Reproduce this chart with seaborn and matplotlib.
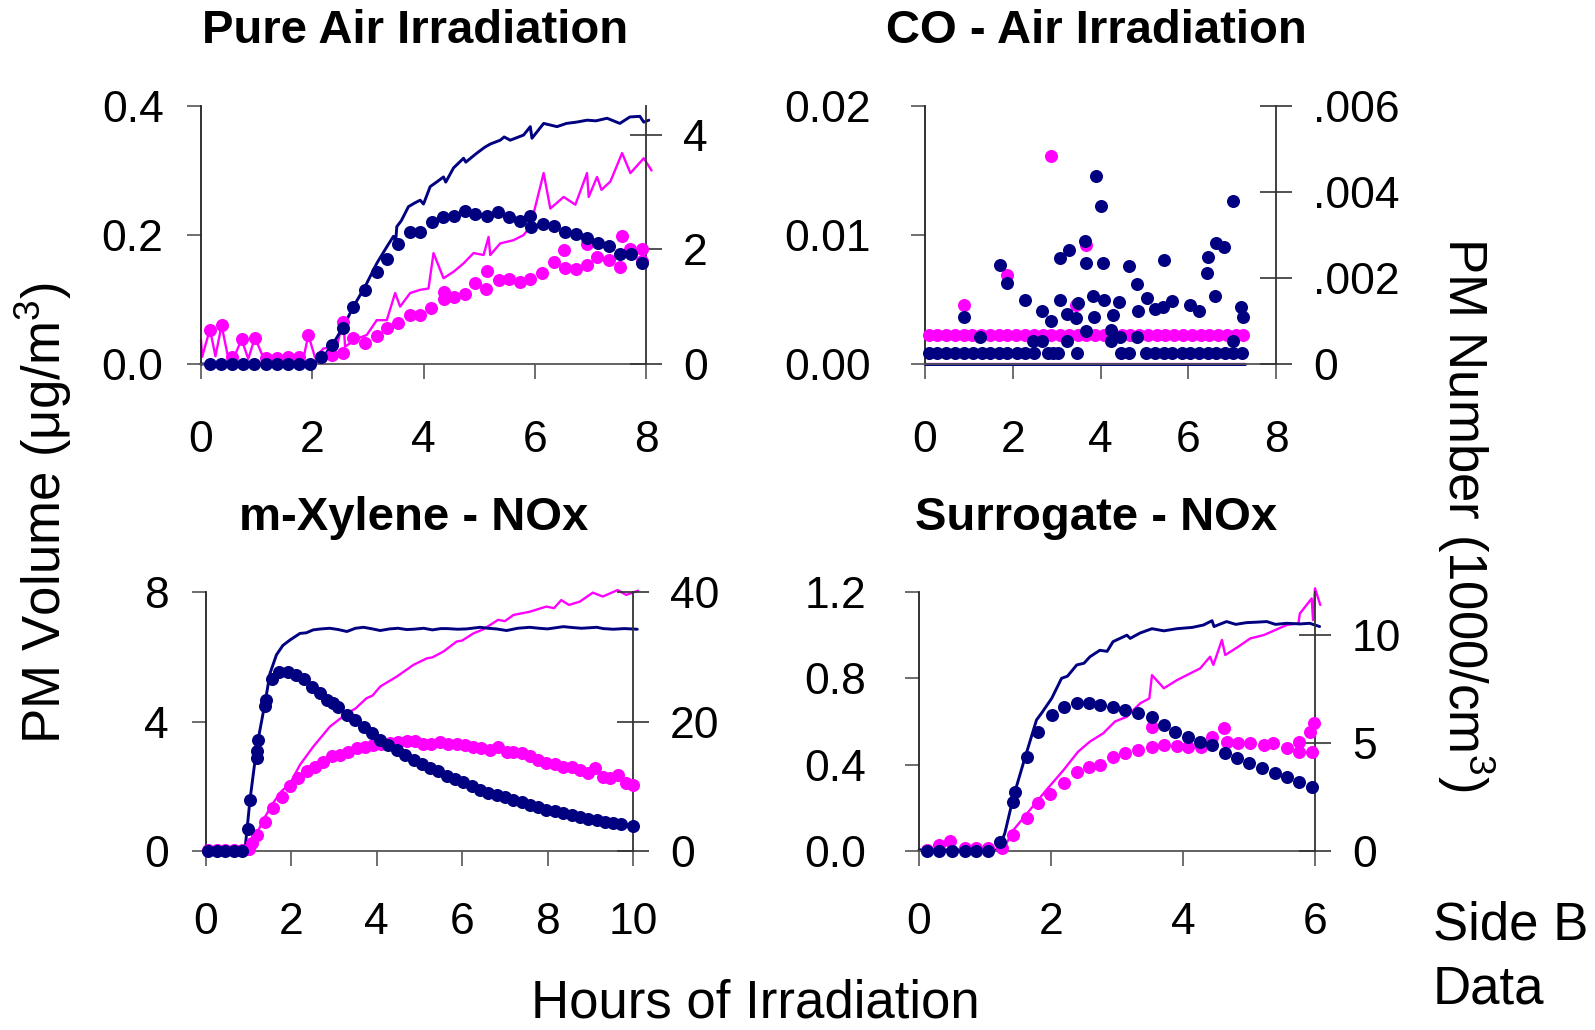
import matplotlib
matplotlib.use("Agg")
import matplotlib.pyplot as plt
import seaborn as sns

sns.set_theme(style="white")
plt.rcParams["font.family"] = ["Liberation Sans", "DejaVu Sans"]
plt.rcParams["mathtext.default"] = "regular"
plt.rcParams["text.color"] = "black"
plt.rcParams["axes.labelcolor"] = "black"
plt.rcParams["xtick.color"] = "black"
plt.rcParams["ytick.color"] = "black"

NAVY = "#000080"
MAGENTA = "#FF00FF"

# ---------------- Pure Air Irradiation ----------------
pa_vol_navy_x = [0.0, 0.5, 1.0, 1.5, 2.0, 2.2, 2.4, 2.56, 2.74, 2.95,
                 3.16, 3.23, 3.35, 3.46, 3.5, 3.52, 3.6, 3.73, 3.85, 3.94,
                 4.0, 4.12, 4.25, 4.36, 4.4, 4.54, 4.72, 4.76, 4.96, 5.1,
                 5.2, 5.38, 5.45, 5.56, 5.8, 5.92, 5.95, 6.16, 6.4, 6.57,
                 6.75, 6.94, 7.1, 7.3, 7.53, 7.71, 7.89, 7.96, 8.05]
pa_vol_navy_y = [0.0, 0.0, 0.0, 0.0, 0.0, 0.011, 0.035, 0.058, 0.089, 0.12,
                 0.156, 0.166, 0.183, 0.198, 0.19, 0.213, 0.222, 0.244, 0.25, 0.254,
                 0.248, 0.275, 0.283, 0.29, 0.282, 0.304, 0.319, 0.313, 0.327, 0.336,
                 0.341, 0.347, 0.352, 0.347, 0.355, 0.368, 0.35, 0.373, 0.368, 0.373,
                 0.375, 0.378, 0.377, 0.381, 0.373, 0.383, 0.384, 0.375, 0.378]
pa_vol_mag_x = [0.0, 0.02, 0.16, 0.26, 0.37, 0.49, 0.6, 0.73, 0.85, 0.97,
                1.12, 1.3, 1.5, 1.7, 1.85, 1.93, 2.05, 2.2, 2.44, 2.56,
                2.59, 2.8, 2.98, 3.16, 3.34, 3.49, 3.58, 3.76, 3.94, 4.09,
                4.18, 4.36, 4.54, 4.72, 4.9, 5.08, 5.17, 5.2, 5.38, 5.62,
                5.8, 5.92, 6.16, 6.28, 6.52, 6.73, 6.94, 6.97, 7.12, 7.2,
                7.36, 7.57, 7.72, 7.96, 8.1]
pa_vol_mag_y = [0.037, 0.011, 0.054, 0.012, 0.06, 0.009, 0.012, 0.038, 0.008, 0.041,
                0.01, 0.008, 0.01, 0.012, 0.012, 0.045, 0.01, 0.024, 0.027, 0.068,
                0.027, 0.039, 0.045, 0.068, 0.068, 0.11, 0.089, 0.11, 0.115, 0.117,
                0.172, 0.133, 0.143, 0.156, 0.172, 0.169, 0.197, 0.169, 0.187, 0.192,
                0.2, 0.213, 0.296, 0.241, 0.259, 0.247, 0.296, 0.259, 0.29, 0.27,
                0.283, 0.327, 0.296, 0.319, 0.3]
pa_num_navy_x = [0.16, 0.36, 0.56, 0.76, 0.96, 1.16, 1.36, 1.56, 1.76, 1.96,
                 2.16, 2.35, 2.55, 2.74, 2.94, 3.16, 3.35, 3.55, 3.75, 3.94,
                 4.15, 4.35, 4.54, 4.74, 4.93, 5.14, 5.34, 5.53, 5.74, 5.92,
                 5.94, 6.14, 6.34, 6.55, 6.75, 6.94, 7.13, 7.33, 7.54, 7.73,
                 7.93]
pa_num_navy_y = [0, 0, 0, 0, 0, 0, 0, 0, 0, 0,
                 0.13, 0.33, 0.62, 1.0, 1.29, 1.61, 1.84, 2.1, 2.3, 2.3,
                 2.47, 2.56, 2.59, 2.67, 2.62, 2.59, 2.65, 2.57, 2.5, 2.59,
                 2.39, 2.45, 2.4, 2.3, 2.26, 2.19, 2.11, 2.05, 1.92, 1.91,
                 1.76]
pa_num_mag_x = [0.16, 0.37, 0.56, 0.73, 0.97, 1.16, 1.36, 1.56, 1.76, 1.93,
                2.16, 2.35, 2.56, 2.56, 2.74, 2.94, 3.16, 3.35, 3.55, 3.76,
                3.94, 4.14, 4.36, 4.36, 4.54, 4.74, 4.93, 5.13, 5.14, 5.35,
                5.53, 5.74, 5.92, 6.13, 6.34, 6.52, 6.55, 6.75, 6.94, 6.94,
                7.12, 7.33, 7.54, 7.57, 7.72, 7.93, 7.93]
pa_num_mag_y = [0.6, 0.68, 0.12, 0.43, 0.46, 0.1, 0.1, 0.12, 0.12, 0.5,
                0.12, 0.15, 0.19, 0.74, 0.45, 0.37, 0.48, 0.62, 0.71, 0.85,
                0.85, 0.97, 1.14, 1.25, 1.17, 1.22, 1.41, 1.3, 1.63, 1.46,
                1.49, 1.43, 1.49, 1.58, 1.78, 1.98, 1.67, 1.65, 1.72, 2.1,
                1.87, 1.81, 1.69, 2.24, 2.01, 2.0, 1.8]

# ---------------- CO - Air Irradiation ----------------
co_vol_x = [0.0, 2.0, 4.0, 6.0, 7.3]
co_vol_mag_y = [0.0, 0.0, 0.0, 0.0, 0.0]
co_vol_navy_y = [0.0, 0.0, 0.0, 0.0, 0.0]
co_num_mag_x = [0.08, 0.28, 0.48, 0.68, 0.88, 0.9, 1.08, 1.28, 1.48, 1.68,
                1.88, 1.88, 2.08, 2.28, 2.48, 2.68, 2.87, 2.88, 3.08, 3.28,
                3.44, 3.48, 3.67, 3.68, 3.88, 4.08, 4.28, 4.48, 4.68, 4.88,
                5.08, 5.28, 5.48, 5.68, 5.88, 6.08, 6.28, 6.48, 6.68, 6.88,
                7.08, 7.25]
co_num_mag_y = [0.00067, 0.00067, 0.00067, 0.00067, 0.00067, 0.00137, 0.00067, 0.00067, 0.00067, 0.00067,
                0.00067, 0.00206, 0.00067, 0.00067, 0.00067, 0.00067, 0.00484, 0.00067, 0.00067, 0.00067,
                0.00137, 0.00067, 0.00276, 0.00067, 0.00067, 0.00067, 0.00067, 0.00067, 0.00067, 0.00067,
                0.00067, 0.00067, 0.00067, 0.00067, 0.00067, 0.00067, 0.00067, 0.00067, 0.00067, 0.00067,
                0.00067, 0.00067]
co_num_navy_x = [0.08, 0.28, 0.48, 0.68, 0.89, 1.09, 1.29, 1.49, 1.69, 1.88,
                 2.09, 2.28, 2.48, 2.81, 2.92, 3.04, 3.47, 4.46, 4.65, 5.03,
                 5.25, 5.44, 5.64, 5.85, 6.04, 6.25, 6.45, 6.63, 6.83, 7.02,
                 7.23,
                 0.9, 1.25, 1.71, 1.88, 2.28, 2.47, 2.67, 2.67, 2.87, 3.08,
                 3.08, 3.24, 3.24, 3.29, 3.44, 3.49, 3.64, 3.67, 3.68, 3.83,
                 3.85, 3.89, 4.02, 4.05, 4.08, 4.23, 4.24, 4.29, 4.43, 4.44,
                 4.65, 4.84, 4.84, 4.86, 5.05, 5.25, 5.43, 5.44, 5.64, 6.04,
                 6.25, 6.42, 6.45, 6.61, 6.64, 6.81, 7.01, 7.02, 7.2, 7.25]
co_num_navy_y = [0.00025, 0.00025, 0.00025, 0.00025, 0.00025, 0.00025, 0.00025, 0.00025, 0.00025, 0.00025,
                 0.00025, 0.00025, 0.00025, 0.00025, 0.00025, 0.00025, 0.00025, 0.00025, 0.00025, 0.00025,
                 0.00025, 0.00025, 0.00025, 0.00025, 0.00025, 0.00025, 0.00025, 0.00025, 0.00025, 0.00025,
                 0.00025,
                 0.00109, 0.00062, 0.0023, 0.00189, 0.0015, 0.00054, 0.00124, 0.00054, 0.00101, 0.00247,
                 0.0015, 0.00116, 0.00054, 0.00264, 0.00106, 0.00143, 0.00287, 0.00234, 0.00077, 0.00158,
                 0.0011, 0.00438, 0.00367, 0.00234, 0.00149, 0.00079, 0.00054, 0.00114, 0.00145, 0.00062,
                 0.00228, 0.00186, 0.00062, 0.00124, 0.00153, 0.00127, 0.00133, 0.00243, 0.00147, 0.00137,
                 0.00124, 0.00211, 0.00248, 0.00158, 0.00282, 0.00271, 0.00054, 0.00379, 0.00133, 0.00109]

# ---------------- m-Xylene - NOx ----------------
mx_vol_navy_x = [0.0, 0.5, 0.91, 1.03, 1.19, 1.38, 1.5, 1.65, 1.8, 1.97,
                 2.2, 2.35, 2.51, 2.7, 2.9, 3.1, 3.3, 3.5, 3.69, 3.9,
                 4.08, 4.3, 4.5, 4.7, 4.86, 5.1, 5.3, 5.5, 5.64, 5.9,
                 6.1, 6.42, 6.6, 6.8, 7.04, 7.3, 7.58, 7.8, 8.0, 8.37,
                 8.6, 8.8, 9.15, 9.3, 9.54, 9.8, 10.1]
mx_vol_navy_y = [0, 0, 0, 1.58, 3.22, 4.56, 5.49, 6.06, 6.35, 6.52,
                 6.72, 6.74, 6.83, 6.86, 6.88, 6.84, 6.78, 6.88, 6.91, 6.86,
                 6.81, 6.86, 6.88, 6.84, 6.85, 6.88, 6.83, 6.87, 6.87, 6.85,
                 6.86, 6.91, 6.88, 6.86, 6.81, 6.88, 6.91, 6.88, 6.86, 6.93,
                 6.9, 6.88, 6.91, 6.87, 6.85, 6.87, 6.85]
mx_vol_mag_x = [0.0, 0.5, 0.95, 1.07, 1.19, 1.38, 1.58, 1.77, 1.97, 2.2,
                2.51, 2.9, 3.3, 3.5, 3.76, 3.9, 4.08, 4.47, 4.86, 5.17,
                5.3, 5.56, 5.87, 6.0, 6.26, 6.5, 6.84, 7.0, 7.2, 7.58,
                7.97, 8.15, 8.32, 8.5, 8.75, 9.06, 9.29, 9.45, 9.64, 9.84,
                10.12]
mx_vol_mag_y = [0, 0, 0, 0.25, 0.55, 1.05, 1.5, 1.85, 2.09, 2.66,
                3.22, 3.84, 4.25, 4.4, 4.72, 4.8, 5.08, 5.39, 5.75, 5.95,
                5.98, 6.16, 6.47, 6.5, 6.72, 6.85, 7.14, 7.1, 7.29, 7.39,
                7.55, 7.5, 7.75, 7.6, 7.7, 7.98, 7.86, 7.95, 8.06, 7.91,
                8.04]
mx_num_navy_x = [0.05, 0.25, 0.45, 0.65, 0.85, 0.99, 1.03, 1.19, 1.2, 1.22,
                 1.38, 1.4, 1.55, 1.72, 1.91, 2.1, 2.3, 2.48, 2.67, 2.83,
                 2.97, 3.1, 3.3, 3.49, 3.69, 3.88, 4.08, 4.27, 4.47, 4.66,
                 4.86, 5.05, 5.25, 5.44, 5.64, 5.83, 6.03, 6.22, 6.42, 6.61,
                 6.81, 7.0, 7.2, 7.39, 7.58, 7.78, 7.97, 8.17, 8.36, 8.56,
                 8.75, 8.95, 9.15, 9.34, 9.54, 9.73, 10.0]
mx_num_navy_y = [0, 0, 0, 0, 0, 3.35, 7.8, 14.3, 15.5, 17.1,
                 22.4, 23.3, 26.5, 27.7, 27.7, 27.2, 26.5, 25.4, 24.4, 23.3,
                 22.9, 22.3, 21.0, 20.2, 19.2, 18.2, 17.1, 16.4, 15.6, 14.8,
                 14.1, 13.4, 12.8, 12.3, 11.6, 11.1, 10.6, 10.0, 9.4, 9.0,
                 8.65, 8.3, 7.9, 7.6, 7.1, 6.75, 6.4, 6.2, 5.9, 5.6,
                 5.3, 5.0, 4.8, 4.5, 4.4, 4.2, 3.9]
mx_num_mag_x = [0.05, 0.25, 0.45, 0.65, 0.85, 1.0, 1.07, 1.19, 1.38, 1.58,
                1.77, 1.97, 2.16, 2.36, 2.55, 2.75, 2.94, 3.14, 3.33, 3.53,
                3.72, 3.92, 4.11, 4.31, 4.5, 4.7, 4.89, 5.09, 5.28, 5.48,
                5.67, 5.87, 6.06, 6.26, 6.45, 6.65, 6.84, 7.04, 7.2, 7.39,
                7.58, 7.78, 7.97, 8.17, 8.36, 8.56, 8.75, 8.95, 9.1, 9.29,
                9.45, 9.64, 9.84, 10.0]
mx_num_mag_y = [0.1, 0.1, 0.1, 0.1, 0.1, 0.3, 1.2, 2.5, 4.5, 6.6,
                8.4, 10.0, 11.2, 12.3, 13.0, 13.8, 14.6, 14.8, 15.3, 15.9,
                16.1, 16.4, 16.5, 16.7, 16.9, 17.0, 17.0, 16.6, 16.5, 16.9,
                16.6, 16.5, 16.4, 16.1, 15.9, 15.6, 16.1, 15.3, 15.3, 15.1,
                14.6, 14.1, 13.6, 13.4, 13.0, 13.0, 12.5, 12.1, 12.8, 11.5,
                11.2, 11.7, 10.5, 10.2]

# ---------------- Surrogate - NOx ----------------
su_vol_navy_x = [0.0, 0.3, 0.6, 0.9, 1.2, 1.3, 1.43, 1.58, 1.78, 1.86,
                 2.01, 2.16, 2.25, 2.39, 2.5, 2.59, 2.74, 2.85, 2.94, 3.15,
                 3.2, 3.35, 3.53, 3.71, 3.91, 4.14, 4.31, 4.44, 4.47, 4.66,
                 4.8, 4.96, 5.1, 5.27, 5.4, 5.57, 5.77, 5.92, 6.07]
su_vol_navy_y = [0.005, 0.005, 0.005, 0.005, 0.005, 0.082, 0.25, 0.406, 0.607, 0.64,
                 0.707, 0.8, 0.81, 0.862, 0.87, 0.9, 0.93, 0.925, 0.97, 1.0,
                 0.985, 1.01, 1.03, 1.02, 1.03, 1.036, 1.047, 1.067, 1.04, 1.063,
                 1.05, 1.058, 1.06, 1.063, 1.05, 1.055, 1.052, 1.055, 1.04]
su_vol_mag_x = [0.0, 0.3, 0.6, 0.9, 1.2, 1.3, 1.43, 1.68, 1.93, 2.19,
                2.41, 2.59, 2.79, 2.97, 3.15, 3.35, 3.49, 3.53, 3.71, 3.91,
                4.11, 4.26, 4.41, 4.46, 4.59, 4.64, 4.84, 5.02, 5.22, 5.4,
                5.57, 5.75, 5.77, 5.95, 5.97, 6.0, 6.08]
su_vol_mag_y = [0.005, 0.005, 0.005, 0.005, 0.005, 0.02, 0.097, 0.19, 0.283, 0.375,
                0.46, 0.507, 0.545, 0.6, 0.622, 0.684, 0.707, 0.815, 0.754, 0.792,
                0.823, 0.846, 0.9, 0.862, 0.978, 0.908, 0.947, 0.985, 1.0, 1.024,
                1.047, 1.055, 1.1, 1.17, 1.07, 1.217, 1.14]
su_num_navy_x = [0.12, 0.31, 0.5, 0.7, 0.87, 1.05, 1.23, 1.43, 1.46, 1.63,
                 1.81, 2.01, 2.19, 2.39, 2.57, 2.74, 2.94, 3.12, 3.32, 3.53,
                 3.71, 3.88, 4.08, 4.26, 4.44, 4.64, 4.82, 5.0, 5.2, 5.4,
                 5.57, 5.75, 5.95]
su_num_navy_y = [0, 0, 0, 0, 0, 0, 0.43, 2.29, 2.75, 4.37,
                 5.53, 6.31, 6.69, 6.85, 6.85, 6.77, 6.69, 6.54, 6.38, 6.23,
                 5.84, 5.53, 5.3, 5.07, 4.91, 4.53, 4.3, 4.06, 3.83, 3.6,
                 3.45, 3.21, 2.98]
su_num_mag_x = [0.12, 0.3, 0.47, 0.7, 0.87, 1.05, 1.25, 1.43, 1.63, 1.81,
                1.98, 2.19, 2.39, 2.57, 2.74, 2.94, 3.12, 3.32, 3.53, 3.53,
                3.71, 3.91, 4.08, 4.28, 4.44, 4.62, 4.67, 4.84, 5.02, 5.22,
                5.37, 5.57, 5.75, 5.75, 5.93, 5.95, 5.98]
su_num_mag_y = [0.05, 0.28, 0.48, 0.15, 0.15, 0.12, 0.12, 0.74, 1.51, 2.21,
                2.64, 3.14, 3.68, 3.91, 3.99, 4.37, 4.53, 4.68, 4.84, 5.76,
                4.91, 4.87, 4.84, 4.81, 5.3, 5.69, 5.07, 4.99, 5.02, 4.91,
                4.99, 4.76, 5.07, 4.6, 5.53, 4.6, 5.95]

# ---------------- titles / ticks ----------------
titles = ["Pure Air Irradiation", "CO - Air Irradiation", "m-Xylene - NOx", "Surrogate - NOx"]
x_ticks = [[0, 2, 4, 6, 8], [0, 2, 4, 6, 8], [0, 2, 4, 6, 8, 10], [0, 2, 4, 6]]
left_ticks = [[0.0, 0.2, 0.4], [0.0, 0.01, 0.02], [0, 4, 8], [0.0, 0.4, 0.8, 1.2]]
left_labels = [["0.0", "0.2", "0.4"], ["0.00", "0.01", "0.02"], ["0", "4", "8"],
               ["0.0", "0.4", "0.8", "1.2"]]
right_ticks = [[0, 2, 4], [0, 0.002, 0.004, 0.006], [0, 20, 40], [0, 5, 10]]
right_labels = [["0", "2", "4"], ["0", ".002", ".004", ".006"], ["0", "20", "40"],
                ["0", "5", "10"]]

panels = [
    dict(vol=[(pa_vol_mag_x, pa_vol_mag_y), (pa_vol_navy_x, pa_vol_navy_y)],
         num=[(pa_num_mag_x, pa_num_mag_y), (pa_num_navy_x, pa_num_navy_y)],
         rect=[201, 106, 646, 364], xmax=8, lmax=0.4, rmax=4.5, lpad=17, xpad=29),
    dict(vol=[(co_vol_x, co_vol_mag_y), (co_vol_x, co_vol_navy_y)],
         num=[(co_num_mag_x, co_num_mag_y), (co_num_navy_x, co_num_navy_y)],
         rect=[925, 106, 1276, 364], xmax=8, lmax=0.02, rmax=0.006, lpad=29, xpad=29),
    dict(vol=[(mx_vol_mag_x, mx_vol_mag_y), (mx_vol_navy_x, mx_vol_navy_y)],
         num=[(mx_num_mag_x, mx_num_mag_y), (mx_num_navy_x, mx_num_navy_y)],
         rect=[206, 592, 633, 851], xmax=10, lmax=8, rmax=40, lpad=17, xpad=26),
    dict(vol=[(su_vol_mag_x, su_vol_mag_y), (su_vol_navy_x, su_vol_navy_y)],
         num=[(su_num_mag_x, su_num_mag_y), (su_num_navy_x, su_num_navy_y)],
         rect=[919, 592, 1315, 851], xmax=6, lmax=1.2, rmax=12, lpad=28, xpad=26),
]

W, H = 1595, 1030
fig = plt.figure(figsize=(W / 100, H / 100), dpi=100)
TICK_FS = 32
SPINE = "#333333"

for i, p in enumerate(panels):
    x0, y0, x1, y1 = p["rect"]
    ax = fig.add_axes([x0 / W, 1 - y1 / H, (x1 - x0) / W, (y1 - y0) / H])
    ax2 = ax.twinx()
    ax.set_facecolor("none")

    for (xs, ys), col, lw in zip(p["vol"], [MAGENTA, NAVY], [1.7, 2.1]):
        sns.lineplot(x=xs, y=ys, ax=ax, color=col, lw=lw, estimator=None,
                     sort=False, clip_on=False)
    for (xs, ys), col in zip(p["num"], [MAGENTA, NAVY]):
        sns.scatterplot(x=xs, y=ys, ax=ax2, color=col, s=88, linewidth=0,
                        clip_on=False, zorder=3)

    ax.set_xlim(0, p["xmax"])
    ax.set_ylim(0, p["lmax"])
    ax2.set_ylim(0, p["rmax"])
    ax.set_xticks(x_ticks[i])
    ax.set_xticklabels([str(t) for t in x_ticks[i]])
    ax.set_yticks(left_ticks[i])
    ax.set_yticklabels(left_labels[i])
    ax2.set_yticks(right_ticks[i])
    ax2.set_yticklabels(right_labels[i])
    ax.set_xlabel("")
    ax.set_ylabel("")
    ax2.set_ylabel("")

    ax.tick_params(axis="x", bottom=True, direction="out", length=11, width=1.2,
                   color="#555555", pad=p["xpad"], labelsize=TICK_FS, labelcolor="black")
    ax.tick_params(axis="y", left=True, right=False, direction="out", length=10, width=1.2,
                   color="#555555", pad=p["lpad"], labelsize=TICK_FS, labelcolor="black")
    ax2.tick_params(axis="y", right=True, left=False, direction="inout", length=23, width=1.2,
                    color="#333333", pad=15, labelsize=TICK_FS, labelcolor="black")

    for s in ["top", "right"]:
        ax.spines[s].set_visible(False)
    ax.spines["left"].set_color("#222222")
    ax.spines["bottom"].set_color("#555555")
    for s in ["top", "left", "bottom"]:
        ax2.spines[s].set_visible(False)
    ax2.spines["right"].set_color(SPINE)
    for sp in list(ax.spines.values()) + list(ax2.spines.values()):
        sp.set_linewidth(1.3)

# titles
title_pos = [(415, 43), (1096, 43), (414, 530), (1096, 530)]
for t, (tx, ty) in zip(titles, title_pos):
    fig.text(tx / W, 1 - ty / H, t, ha="center", va="baseline", fontsize=34,
             fontweight="bold", color="black")

fig.text(43 / W, 1 - 513 / H, "PM Volume (\u03bcg/m$^3$)", rotation=90,
         ha="center", va="center", fontsize=38, color="black")
fig.text(1466 / W, 1 - 514 / H, "PM Number (1000/cm$^3$)", rotation=270,
         ha="center", va="center", fontsize=38, color="black")
fig.text(755 / W, 1 - 1018 / H, "Hours of Irradiation", ha="center", va="baseline",
         fontsize=38, color="black")
fig.text(1433 / W, 1 - 940 / H, "Side B", ha="left", va="baseline", fontsize=38,
         color="black")
fig.text(1433 / W, 1 - 1003 / H, "Data", ha="left", va="baseline", fontsize=38,
         color="black")

fig.savefig("out.png", dpi=100)
